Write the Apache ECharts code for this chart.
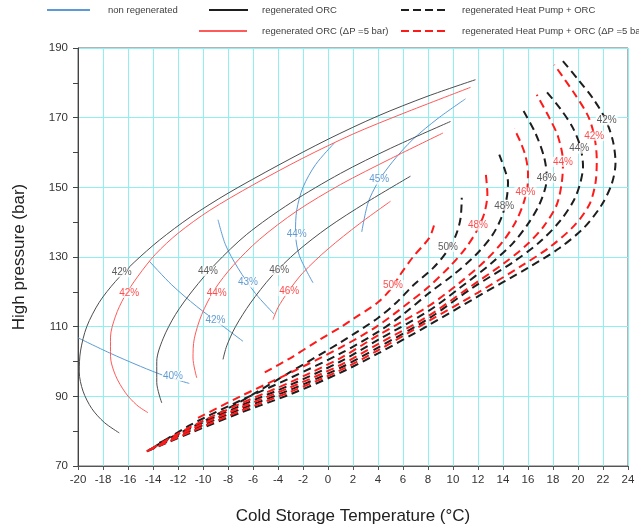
<!DOCTYPE html>
<html><head><meta charset="utf-8">
<script src="https://cdn.jsdelivr.net/npm/echarts@6/dist/echarts.min.js"></script>
<style>html,body{margin:0;padding:0;background:#fff}#c{width:639px;height:530px}</style>
</head><body><div id="c"></div>
<script>
// ---- data (x = cold storage temperature °C, y = high pressure bar) ----
const nonRegen40 = [[-20,106.8],[-17.5,102.5],[-15,98.6],[-13,95.8],[-11.1,93.7]];
const nonRegen42 = [[-14.3,128.8],[-12.5,122],[-10.5,115.8],[-8.5,110.4],[-6.8,105.8]];
const nonRegen43 = [[-8.8,140.7],[-8.2,133.5],[-7.2,126.8],[-5.8,119.5],[-4.3,113.6]];
const nonRegen44 = [[0.5,162.7],[-1,156.5],[-2,150],[-2.5,143.5],[-2.6,137],[-2.3,130.5],[-1.2,122.6]];
const nonRegen45 = [[11,175.4],[8.8,169.8],[6.8,163.8],[5.2,157.5],[4,151.5],[3.2,145.5],[2.7,137.2]];

const orc42 = [[11.8,180.9],[8,176.2],[4,170.5],[0,163.8],[-4,156.3],[-8,148.3],[-11,141.5],[-13.5,134.8],[-15.5,128.5],[-17,123],[-18.3,117],[-19.3,110],[-19.8,103],[-19.9,97],[-19.6,91.5],[-18.9,86.5],[-17.9,82.5],[-16.7,79.5]];
const orc44 = [[9.8,168.9],[5,161.2],[1,154],[-3,145.5],[-6.5,136.5],[-9,128],[-10.8,120.5],[-12.2,113.5],[-13.2,106.5],[-13.7,100],[-13.7,94],[-13.3,88.1]];
const orc46 = [[6.6,153.2],[3,145.5],[0,138.5],[-2.5,131.5],[-4.5,124.5],[-6.2,116.8],[-7.4,110],[-8.1,104.5],[-8.4,100.6]];

const orcDp42 = [[11.4,178.7],[6,171.2],[2,165.3],[-2,158.4],[-6,150.7],[-9.5,143.3],[-12,136.8],[-13.8,130.8],[-15.2,124.5],[-16.3,118.5],[-17,113],[-17.4,107],[-17.4,101.5],[-17,96],[-16.2,91],[-15.3,87.5],[-14.4,85.3]];
const orcDp44 = [[9.2,165.6],[5,158.2],[1,150.8],[-2.5,143.2],[-5.5,135],[-7.6,127.5],[-9.1,120.5],[-10.1,113.5],[-10.7,106.5],[-10.8,101],[-10.5,95.3]];
const orcDp46 = [[5,146],[2.5,139.5],[0,132.3],[-2,125.5],[-3.2,120],[-4,115.5],[-4.4,112]];

const hp42 = [[-14.5,74.2],[-11,79.5],[-7,85.3],[-3,90.6],[1,96.8],[4,102.3],[8,110.3],[12,118.7],[16,126.9],[18.5,132.5],[20.5,138.5],[21.9,145],[22.7,151],[23,157],[22.8,163.2],[22.2,169.5],[21.2,175.5],[20,181],[18.75,186.4]];
const hp44 = [[-14.4,74.4],[-11,80.2],[-7,86.3],[-3,91.9],[1,98.2],[4,104],[8,112.2],[11.5,121],[14.8,128.5],[17,134.5],[18.6,140.5],[19.7,146.5],[20.2,151.5],[20.4,156],[20.2,161.5],[19.6,167],[18.6,172.5],[17.3,178.2]];
const hp46 = [[-14.3,74.6],[-11,80.8],[-7,87.3],[-3,93.3],[1,100],[4,106.2],[8,114.4],[10.5,121],[13,128],[14.8,134],[16,139.5],[16.9,145],[17.4,150],[17.5,153],[17.3,158.5],[16.6,165.5],[15.6,172.2]];
const hp48 = [[-14,75.2],[-11,81.8],[-7,88.8],[-3,95.3],[1,102.3],[4,108.5],[6,113.5],[8.1,119.7],[10,124.8],[11.8,130.5],[13.1,136],[13.9,141.5],[14.3,147],[14.4,151.5],[14.1,155.5],[13.7,159.4]];
const hp50 = [[-13.5,76.6],[-10.4,82],[-7,88.5],[-3,97],[1,105.5],[4,112.5],[5.5,117],[6.8,121.8],[8.4,126.8],[9.5,131.5],[10.2,136],[10.6,141],[10.7,147]];

const hpDp42 = [[-14.5,74.2],[-11,79.8],[-7,85.8],[-3,91.3],[1,97.5],[4,103.2],[8,111.5],[12,119.8],[15.5,127.5],[17.8,133],[19.7,139],[20.9,145],[21.4,151.3],[21.5,158],[21.3,164.8],[20.8,170.5],[19.7,177],[18.1,185.2]];
const hpDp44 = [[-14.4,74.4],[-11,80.5],[-7,86.8],[-3,92.6],[1,99],[4,105],[8,113],[11,120.5],[14,128],[15.9,133.5],[17.3,139],[18.3,145],[18.7,151.3],[18.8,157.3],[18.4,164.6],[17.7,170],[16.7,176.6]];
const hpDp46 = [[-14.2,74.8],[-11,81.2],[-7,87.9],[-3,94.1],[1,101],[4,107.5],[8,115.8],[10.5,122.5],[12.6,129],[14,134.5],[15,140],[15.6,145],[15.95,150],[16,154],[15.8,159],[15.4,163],[14.9,166.8]];
const hpDp48 = [[-10.4,83.8],[-7,90],[-3,96.8],[1,104],[4,110.3],[6.5,117],[8.1,121.6],[9.8,127.5],[11,132.5],[11.9,137.5],[12.5,142.5],[12.75,148],[12.6,154.6]];
const hpDp50 = [[-5.06,96.9],[-3,101],[-0.7,106.2],[1,109.8],[2,112.2],[4,117],[5.2,121.5],[5.7,124.5],[6.8,130],[8.1,135.5],[8.5,139.3]];

const labelsBlue = [[-12.4,95.8,'40%'],[-9,111.8,'42%'],[-6.4,122.7,'43%'],[-2.5,136.4,'44%'],[4.1,152.2,'45%']];
const labelsBlack = [[-16.5,125.6,'42%'],[-9.6,125.9,'44%'],[-3.9,126.2,'46%'],[22.3,169.2,'42%'],[20.1,161.1,'44%'],[17.5,152.7,'46%'],[14.1,144.7,'48%'],[9.6,132.9,'50%']];
const labelsRed = [[-15.9,119.7,'42%'],[-8.9,119.7,'44%'],[-3.1,120.2,'46%'],[21.3,164.8,'42%'],[18.8,157.3,'44%'],[15.8,148.6,'46%'],[12,139,'48%'],[5.2,121.9,'50%']];

const legendNames = ['non regenerated','regenerated ORC','regenerated ORC (ΔP =5 bar)','regenerated Heat Pump + ORC','regenerated Heat Pump + ORC (ΔP =5 bar)'];

// ---- styles ----
const C_BLUE = '#5b9bd5', C_ORC = '#4d4d4d', C_ORC_DP = '#ff5a5a', C_HP = '#1e1e1e', C_HP_DP = '#ff1a1a';
const SANS = '"Liberation Sans",Arial,sans-serif';

function curve(data, color, width, dashed, z) {
  return {type:'line', data:data, smooth:0.3, symbol:'none', silent:true, z:z,
    lineStyle:{color:color, width:width, type: dashed ? [8,5] : 'solid'}};
}
function labels(data, color) {
  return {type:'scatter', symbolSize:1, itemStyle:{color:'rgba(0,0,0,0)'}, silent:true, z:10,
    data: data.map(d => ({value:[d[0], d[1]], name:d[2]})),
    label:{show:true, position:'inside', formatter:'{b}', color:color, fontSize:10, fontFamily:SANS,
      backgroundColor:'#fff', padding:[0,1]}};
}

const series = [
  curve(nonRegen40, C_BLUE, 1, false, 3), curve(nonRegen42, C_BLUE, 1, false, 3), curve(nonRegen43, C_BLUE, 1, false, 3),
  curve(nonRegen44, C_BLUE, 1, false, 3), curve(nonRegen45, C_BLUE, 1, false, 3),
  curve(orc42, C_ORC, 1, false, 3), curve(orc44, C_ORC, 1, false, 3), curve(orc46, C_ORC, 1, false, 3),
  curve(orcDp42, C_ORC_DP, 1, false, 3), curve(orcDp44, C_ORC_DP, 1, false, 3), curve(orcDp46, C_ORC_DP, 1, false, 3),
  curve(hp42, C_HP, 2, true, 4), curve(hp44, C_HP, 2, true, 4), curve(hp46, C_HP, 2, true, 4), curve(hp48, C_HP, 2, true, 4), curve(hp50, C_HP, 2, true, 4),
  curve(hpDp42, C_HP_DP, 2, true, 5), curve(hpDp44, C_HP_DP, 2, true, 5), curve(hpDp46, C_HP_DP, 2, true, 5), curve(hpDp48, C_HP_DP, 2, true, 5), curve(hpDp50, C_HP_DP, 2, true, 5),
  labels(labelsBlue, '#3d85c6'), labels(labelsBlack, '#333333'), labels(labelsRed, '#ff2020')
];

const LT = {fontSize:9.5, fontFamily:SANS, fill:'#404040', verticalAlign:'middle'};
function legLine(x1, x2, y, color, dashed) {
  return {type:'line', silent:true, shape:{x1:x1, y1:y, x2:x2, y2:y},
    style:{stroke:color, lineWidth:2, lineDash: dashed ? [8,4] : null}};
}
function legText(x, y, t) { return {type:'text', silent:true, x:x, y:y, style:Object.assign({text:t}, LT)}; }

const chart = echarts.init(document.getElementById('c'), null, {renderer:'canvas'});
chart.setOption({
  animation:false,
  backgroundColor:'#fff',
  grid:{left:78, right:11, top:48, bottom:64, show:true, borderColor:'#666', borderWidth:1, backgroundColor:'transparent'},
  xAxis:{type:'value', min:-20, max:24, interval:2,
    name:'Cold Storage Temperature (°C)', nameLocation:'middle', nameGap:42,
    nameTextStyle:{fontSize:17, color:'#222', fontFamily:SANS},
    axisLine:{onZero:false, lineStyle:{color:'#555'}},
    axisTick:{show:true, length:4, lineStyle:{color:'#555'}},
    axisLabel:{fontSize:11.5, color:'#333', margin:8, fontFamily:SANS},
    splitLine:{show:true, lineStyle:{color:'#8ef0f3', width:1}}},
  yAxis:{type:'value', min:70, max:190, interval:20,
    name:'High pressure (bar)', nameLocation:'middle', nameGap:50,
    nameTextStyle:{fontSize:17, color:'#222', fontFamily:SANS},
    axisLine:{show:true, onZero:false, lineStyle:{color:'#444'}},
    axisTick:{show:true, length:5, lineStyle:{color:'#444'}},
    minorTick:{show:true, splitNumber:2, length:5, lineStyle:{color:'#444'}},
    axisLabel:{fontSize:11.5, color:'#333', margin:10, fontFamily:SANS},
    splitLine:{show:true, lineStyle:{color:'#8ef0f3', width:1}}},
  graphic:[
    legLine(47, 90, 10, C_BLUE, false), legText(108, 10, legendNames[0]),
    legLine(209, 248, 10, C_HP, false), legText(262, 10, legendNames[1]),
    legLine(199, 247, 31, C_ORC_DP, false), legText(262, 31, legendNames[2]),
    legLine(401, 445, 10, C_HP, true), legText(462, 10, legendNames[3]),
    legLine(401, 445, 31, C_HP_DP, true), legText(462, 31, legendNames[4])
  ],
  series: series
});
</script></body></html>
